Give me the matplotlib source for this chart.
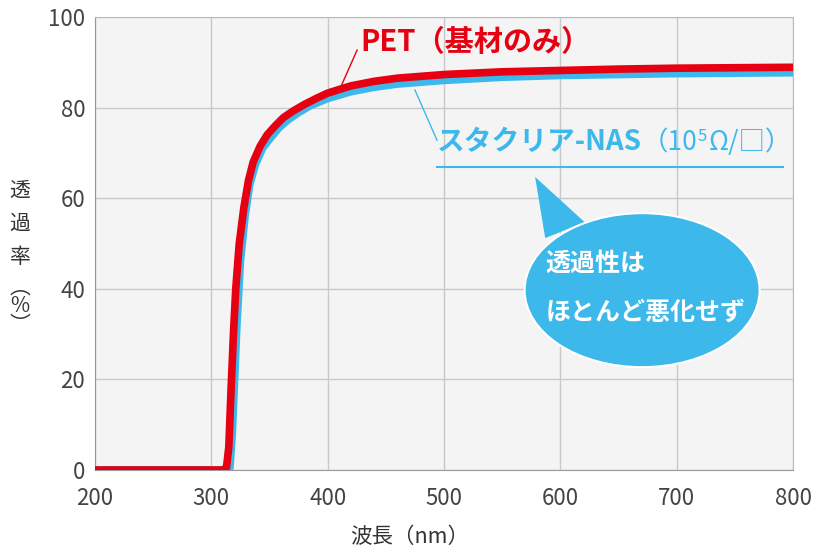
import matplotlib.pyplot as plt
from matplotlib.patches import Ellipse, Polygon

plt.rcParams['font.family'] = ['Noto Sans CJK JP', 'DejaVu Sans']

# transmittance curves
wl_pet = [200, 310, 313, 315, 317, 319, 321, 324, 328, 332, 336, 342, 348, 355, 362,
          370, 380, 390, 400, 420, 440, 460, 500, 550, 600, 650, 700, 750, 800]
pet = [0, 0, 0.5, 5, 18, 30, 40, 50, 58, 64, 68, 71.5, 74, 76, 77.8,
       79.2, 80.7, 82, 83.2, 84.8, 85.8, 86.5, 87.3, 87.9, 88.2, 88.5, 88.7, 88.8, 88.9]

wl_nas = [200, 313, 316, 318, 320, 322, 325, 329, 333, 338, 344, 350, 358, 366,
          375, 385, 400, 420, 440, 460, 500, 550, 600, 650, 700, 750, 800]
nas = [0, 0, 0.5, 8, 20, 32, 46, 56, 63, 67.5, 71, 73, 75.5, 77.3,
       78.9, 80.4, 82, 83.5, 84.5, 85.2, 86, 86.7, 87.1, 87.3, 87.5, 87.6, 87.7]

xticks = [200, 300, 400, 500, 600, 700, 800]
yticks = [0, 20, 40, 60, 80, 100]

red = '#e60012'
blue = '#3cb8ea'

fig = plt.figure(figsize=(8.18, 5.49), dpi=100)
ax = fig.add_axes([95 / 818, 79 / 549, 698 / 818, 453 / 549])
ax.set_facecolor('#f4f4f4')

ax.plot(wl_nas, nas, color=blue, lw=5.5, solid_capstyle='butt', zorder=3)
ax.plot(wl_pet, pet, color=red, lw=5.5, solid_capstyle='butt', zorder=4)

ax.set_xlim(200, 800)
ax.set_ylim(0, 100)
ax.set_xticks(xticks)
ax.set_yticks(yticks)
ax.grid(color='#c8c8c8', lw=1)
ax.set_axisbelow(True)
ax.tick_params(length=0, labelsize=16, labelcolor='#444444')
ax.tick_params(axis='x', pad=12)
ax.tick_params(axis='y', pad=7)
for s in ax.spines.values():
    s.set_color('#bbbbbb')
ax.spines['left'].set_color('#999999')
ax.spines['bottom'].set_color('#999999')

# PET label
ax.plot([410.8, 425.3], [84.3, 92.7], color=red, lw=1, zorder=5)
ax.text(428, 94.5, 'PET（基材のみ）', color=red, fontsize=21, fontweight='bold',
        ha='left', va='center')

# NAS label
ax.plot([475, 494], [83.9, 72.8], color=blue, lw=1, zorder=5)
ax.plot([494, 791], [66.9, 66.9], color=blue, lw=1.5, zorder=5)
t1 = ax.text(494, 70.6, 'スタクリア-NAS', color=blue, fontsize=20, fontweight='bold',
             ha='left', va='baseline')
t2 = ax.annotate('（10', xy=(1, 0), xycoords=t1, color=blue, fontsize=19,
                 ha='left', va='bottom')
t3 = ax.annotate('5', xy=(1, 0.42), xycoords=t2, color=blue, fontsize=12,
                 ha='left', va='bottom')
ax.annotate('Ω/□）', xy=(1, 0), xycoords=t2, xytext=(8, 0), textcoords='offset points',
            color=blue, fontsize=19, ha='left', va='bottom')

# speech bubble
ax.add_patch(Polygon([(578.3, 64.7), (587, 51.2), (621, 54.7)], closed=True,
                     facecolor=blue, edgecolor='none', zorder=6))
ax.add_patch(Ellipse((670.3, 39.7), 202, 34, facecolor=blue, edgecolor='white',
                     lw=1.5, zorder=6))
ax.text(587, 45.6, '透過性は', color='white', fontsize=18, fontweight='bold',
        ha='left', va='center', zorder=7)
ax.text(587, 34.8, 'ほとんど悪化せず', color='white', fontsize=18, fontweight='bold',
        ha='left', va='center', zorder=7)

# axis labels
fig.text(410 / 818, 1 - 537 / 549, '波長（nm）', fontsize=15.5, color='#333333',
         ha='center', va='center')
fig.text(20 / 818, 1 - 224 / 549, '透\n過\n率', fontsize=15, color='#333333',
         ha='center', va='center', linespacing=1.65)
fig.text(20 / 818, 1 - 306 / 549, '︵\n%\n︶', fontsize=15, color='#333333',
         ha='center', va='center', linespacing=0.8)

fig.savefig('out.png', dpi=100)
